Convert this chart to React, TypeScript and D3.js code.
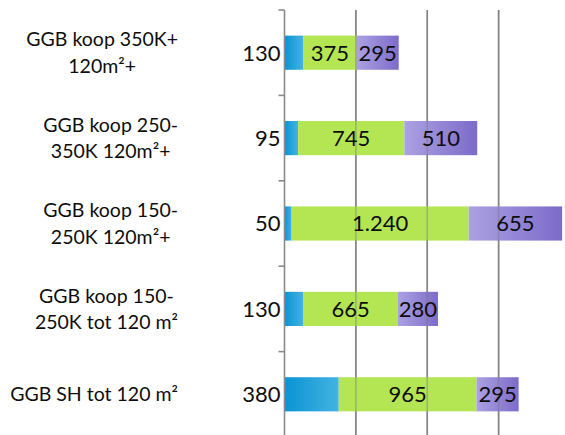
import { formatLocale, scaleBand, scaleLinear, select } from 'd3';
import React, { useEffect, useRef } from 'react';

const categories = [
  'GGB koop 350K+\n120m²+',
  'GGB koop 250-\n350K 120m²+',
  'GGB koop 150-\n250K 120m²+',
  'GGB koop 150-\n250K tot 120 m²',
  'GGB SH tot 120 m²',
];
const blueValues = [130, 95, 50, 130, 380];
const greenValues = [375, 745, 1240, 665, 965];
const purpleValues = [295, 510, 655, 280, 295];
const gridTicks = [500, 1000, 1500];

const nl = formatLocale({
  decimal: ',',
  thousands: '.',
  grouping: [3],
  currency: ['€', ''],
});
const fmt = nl.format(',d');

const WIDTH = 565;
const HEIGHT = 435;
const FONT = 'Lato, "Open Sans", sans-serif';

const App: React.FC = () => {
  const svgRef = useRef<SVGSVGElement>(null);

  useEffect(() => {
    const svg = select(svgRef.current);
    svg.selectAll('*').remove();

    const x = scaleLinear().domain([0, 2000]).range([284.5, 570]);
    const y = scaleBand<string>().domain(categories).range([10, 437]).padding(0);
    const bw = y.bandwidth();
    const bh = bw * 0.4;

    // Gradients
    const defs = svg.append('defs');
    const blueGrad = defs
      .append('linearGradient')
      .attr('id', 'blueGrad')
      .attr('x1', '0%')
      .attr('x2', '100%');
    blueGrad.append('stop').attr('offset', '0%').attr('stop-color', '#0a93d3');
    blueGrad.append('stop').attr('offset', '100%').attr('stop-color', '#43b3e2');
    const purpleGrad = defs
      .append('linearGradient')
      .attr('id', 'purpleGrad')
      .attr('x1', '0%')
      .attr('x2', '100%');
    purpleGrad.append('stop').attr('offset', '0%').attr('stop-color', '#aba1e2');
    purpleGrad.append('stop').attr('offset', '100%').attr('stop-color', '#7d6bc9');

    // Grid under bars
    svg
      .selectAll('.grid')
      .data(gridTicks)
      .join('line')
      .attr('class', 'grid')
      .attr('x1', (d) => x(d))
      .attr('x2', (d) => x(d))
      .attr('y1', 10)
      .attr('y2', HEIGHT)
      .attr('stroke', '#8a8a8a')
      .attr('stroke-width', 1.6);

    // Stacked bars
    const rows = categories.map((c, i) => {
      const b = blueValues[i];
      const g = greenValues[i];
      const p = purpleValues[i];
      return [
        { c, v: b, x0: 0, x1: b, fill: 'url(#blueGrad)', label: 'left' },
        { c, v: g, x0: b, x1: b + g, fill: '#b4e653', label: 'mid' },
        { c, v: p, x0: b + g, x1: b + g + p, fill: 'url(#purpleGrad)', label: 'mid' },
      ];
    });
    const segs = rows.flat();

    svg
      .selectAll('.seg')
      .data(segs)
      .join('rect')
      .attr('class', 'seg')
      .attr('x', (d) => x(d.x0))
      .attr('width', (d) => x(d.x1) - x(d.x0))
      .attr('y', (d) => (y(d.c) as number) + (bw - bh) / 2)
      .attr('height', bh)
      .attr('fill', (d) => d.fill);

    // Grid lines showing through bars
    svg
      .selectAll('.grid-over')
      .data(gridTicks)
      .join('line')
      .attr('class', 'grid-over')
      .attr('x1', (d) => x(d))
      .attr('x2', (d) => x(d))
      .attr('y1', 10)
      .attr('y2', HEIGHT)
      .attr('stroke', '#7a7a7a')
      .attr('stroke-opacity', 0.45)
      .attr('stroke-width', 1.6);

    // Axis line + ticks
    svg
      .append('line')
      .attr('x1', x(0))
      .attr('x2', x(0))
      .attr('y1', 10)
      .attr('y2', HEIGHT)
      .attr('stroke', '#8a8a8a')
      .attr('stroke-width', 1.6);
    svg
      .selectAll('.tick')
      .data(categories)
      .join('line')
      .attr('class', 'tick')
      .attr('x1', x(0) - 6)
      .attr('x2', x(0))
      .attr('y1', (d) => y(d) as number)
      .attr('y2', (d) => y(d) as number)
      .attr('stroke', '#8a8a8a')
      .attr('stroke-width', 1.6);

    // Value labels
    svg
      .selectAll('.val')
      .data(segs)
      .join('text')
      .attr('class', 'val')
      .attr('x', (d) => (d.label === 'left' ? x(0) - 4 : (x(d.x0) + x(d.x1)) / 2))
      .attr('y', (d) => (y(d.c) as number) + bw / 2)
      .attr('dy', '0.36em')
      .attr('text-anchor', (d) => (d.label === 'left' ? 'end' : 'middle'))
      .attr('font-family', FONT)
      .attr('font-size', 22)
      .attr('fill', '#0d0d0d')
      .text((d) => fmt(d.v));

    // Category labels: lines centered within block, block right-aligned
    const blockRight = 178;
    const lineH = 26.5;
    categories.forEach((c) => {
      const lines = c.split('\n');
      const cy = (y(c) as number) + bw / 2;
      const g = svg.append('g');
      const texts = lines.map((ln, i) =>
        g
          .append('text')
          .attr('y', cy + (i - (lines.length - 1) / 2) * lineH)
          .attr('dy', '0.36em')
          .attr('text-anchor', 'middle')
          .attr('font-family', FONT)
          .attr('font-size', 19.5)
          .attr('fill', '#0d0d0d')
          .text(ln),
      );
      const widths = texts.map((t) => (t.node() as SVGTextElement).getComputedTextLength());
      const maxW = Math.max(...widths);
      texts.forEach((t) => t.attr('x', blockRight - maxW / 2));
    });
  }, []);

  return (
    <svg
      ref={svgRef}
      width={WIDTH}
      height={HEIGHT}
      style={{ position: 'absolute', left: 0, top: 0, background: '#fff' }}
    />
  );
};

export default App;
